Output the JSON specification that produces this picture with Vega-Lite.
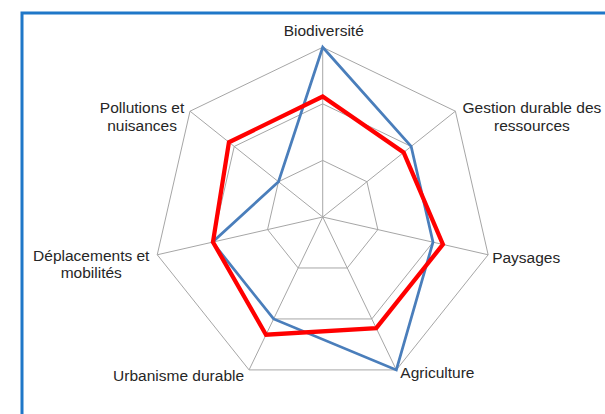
{
  "$schema": "https://vega.github.io/schema/vega-lite/v6.json",
  "width": 600,
  "height": 420,
  "autosize": {"type": "none"},
  "padding": {"left": 22, "top": 13, "right": 0, "bottom": 0},
  "background": "white",
  "config": {
    "view": {"stroke": "#1f77c8", "strokeWidth": 3},
    "text": {"font": "Liberation Sans", "fontSize": 15.5, "color": "#262626", "lineHeight": 17.5}
  },
  "datasets": {
    "axes": [
      {"idx": 0, "label": ["Biodiversité"], "levels": [1, 2, 3]},
      {"idx": 1, "label": ["Gestion durable des", "ressources"], "levels": [1, 2, 3]},
      {"idx": 2, "label": ["Paysages"], "levels": [1, 2, 3]},
      {"idx": 3, "label": ["Agriculture"], "levels": [1, 2, 3]},
      {"idx": 4, "label": ["Urbanisme durable"], "levels": [1, 2, 3]},
      {"idx": 5, "label": ["Déplacements et", "mobilités"], "levels": [1, 2, 3]},
      {"idx": 6, "label": ["Pollutions et", "nuisances"], "levels": [1, 2, 3]}
    ],
    "scores": [
      {"series": "A", "idx": 0, "value": 3},
      {"series": "A", "idx": 1, "value": 2},
      {"series": "A", "idx": 2, "value": 2},
      {"series": "A", "idx": 3, "value": 3},
      {"series": "A", "idx": 4, "value": 2},
      {"series": "A", "idx": 5, "value": 2},
      {"series": "A", "idx": 6, "value": 1},
      {"series": "B", "idx": 0, "value": 2.13},
      {"series": "B", "idx": 1, "value": 1.83},
      {"series": "B", "idx": 2, "value": 2.18},
      {"series": "B", "idx": 3, "value": 2.18},
      {"series": "B", "idx": 4, "value": 2.31},
      {"series": "B", "idx": 5, "value": 1.99},
      {"series": "B", "idx": 6, "value": 2.12}
    ]
  },
  "layer": [
    {
      "data": {"name": "axes"},
      "transform": [
        {"flatten": ["levels"], "as": ["level"]},
        {"calculate": "datum.level * sin(datum.idx * 2 * PI / 7)", "as": "px"},
        {"calculate": "datum.level * cos(datum.idx * 2 * PI / 7)", "as": "py"}
      ],
      "mark": {"type": "line", "interpolate": "linear-closed", "color": "#a6a6a6", "strokeWidth": 1},
      "encoding": {
        "x": {"field": "px", "type": "quantitative", "scale": {"domain": [-5.316, 5.291], "nice": false, "zero": false}, "axis": null},
        "y": {"field": "py", "type": "quantitative", "scale": {"domain": [-3.818, 3.606], "nice": false, "zero": false}, "axis": null},
        "detail": {"field": "level", "type": "nominal"},
        "order": {"field": "idx", "type": "quantitative"}
      }
    },
    {
      "data": {"name": "axes"},
      "transform": [
        {"calculate": "3 * sin(datum.idx * 2 * PI / 7)", "as": "px"},
        {"calculate": "3 * cos(datum.idx * 2 * PI / 7)", "as": "py"},
        {"calculate": "0", "as": "ox"},
        {"calculate": "0", "as": "oy"}
      ],
      "mark": {"type": "rule", "color": "#a6a6a6", "strokeWidth": 1},
      "encoding": {
        "x": {"field": "ox", "type": "quantitative"},
        "y": {"field": "oy", "type": "quantitative"},
        "x2": {"field": "px"},
        "y2": {"field": "py"}
      }
    },
    {
      "data": {"name": "scores"},
      "transform": [
        {"filter": "datum.series === 'A'"},
        {"calculate": "datum.value * sin(datum.idx * 2 * PI / 7)", "as": "px"},
        {"calculate": "datum.value * cos(datum.idx * 2 * PI / 7)", "as": "py"}
      ],
      "mark": {"type": "line", "interpolate": "linear-closed", "color": "#4a7ebb", "strokeWidth": 2.75, "strokeJoin": "miter"},
      "encoding": {
        "x": {"field": "px", "type": "quantitative"},
        "y": {"field": "py", "type": "quantitative"},
        "order": {"field": "idx", "type": "quantitative"}
      }
    },
    {
      "data": {"name": "scores"},
      "transform": [
        {"filter": "datum.series === 'B'"},
        {"calculate": "datum.value * sin(datum.idx * 2 * PI / 7)", "as": "px"},
        {"calculate": "datum.value * cos(datum.idx * 2 * PI / 7)", "as": "py"}
      ],
      "mark": {"type": "line", "interpolate": "linear-closed", "color": "#ff0000", "strokeWidth": 4.25, "strokeJoin": "miter"},
      "encoding": {
        "x": {"field": "px", "type": "quantitative"},
        "y": {"field": "py", "type": "quantitative"},
        "order": {"field": "idx", "type": "quantitative"}
      }
    },
    {
      "data": {"name": "axes"},
      "transform": [
        {"filter": "datum.idx === 0"},
        {"calculate": "3 * sin(datum.idx * 2 * PI / 7)", "as": "px"},
        {"calculate": "3 * cos(datum.idx * 2 * PI / 7)", "as": "py"}
      ],
      "mark": {"type": "text", "align": "center", "baseline": "middle", "dx": 1, "dy": -16.5},
      "encoding": {"x": {"field": "px", "type": "quantitative"}, "y": {"field": "py", "type": "quantitative"}, "text": {"field": "label"}}
    },
    {
      "data": {"name": "axes"},
      "transform": [
        {"filter": "datum.idx === 1"},
        {"calculate": "3 * sin(datum.idx * 2 * PI / 7)", "as": "px"},
        {"calculate": "3 * cos(datum.idx * 2 * PI / 7)", "as": "py"}
      ],
      "mark": {"type": "text", "align": "center", "baseline": "middle", "dx": 76.5, "dy": -3},
      "encoding": {"x": {"field": "px", "type": "quantitative"}, "y": {"field": "py", "type": "quantitative"}, "text": {"field": "label"}}
    },
    {
      "data": {"name": "axes"},
      "transform": [
        {"filter": "datum.idx === 2 || datum.idx === 3"},
        {"calculate": "3 * sin(datum.idx * 2 * PI / 7)", "as": "px"},
        {"calculate": "3 * cos(datum.idx * 2 * PI / 7)", "as": "py"}
      ],
      "mark": {"type": "text", "align": "left", "baseline": "middle", "dx": 4, "dy": 3},
      "encoding": {"x": {"field": "px", "type": "quantitative"}, "y": {"field": "py", "type": "quantitative"}, "text": {"field": "label"}}
    },
    {
      "data": {"name": "axes"},
      "transform": [
        {"filter": "datum.idx === 4"},
        {"calculate": "3 * sin(datum.idx * 2 * PI / 7)", "as": "px"},
        {"calculate": "3 * cos(datum.idx * 2 * PI / 7)", "as": "py"}
      ],
      "mark": {"type": "text", "align": "right", "baseline": "middle", "dx": -5, "dy": 6},
      "encoding": {"x": {"field": "px", "type": "quantitative"}, "y": {"field": "py", "type": "quantitative"}, "text": {"field": "label"}}
    },
    {
      "data": {"name": "axes"},
      "transform": [
        {"filter": "datum.idx === 5"},
        {"calculate": "3 * sin(datum.idx * 2 * PI / 7)", "as": "px"},
        {"calculate": "3 * cos(datum.idx * 2 * PI / 7)", "as": "py"}
      ],
      "mark": {"type": "text", "align": "center", "baseline": "middle", "dx": -66, "dy": 1},
      "encoding": {"x": {"field": "px", "type": "quantitative"}, "y": {"field": "py", "type": "quantitative"}, "text": {"field": "label"}}
    },
    {
      "data": {"name": "axes"},
      "transform": [
        {"filter": "datum.idx === 6"},
        {"calculate": "3 * sin(datum.idx * 2 * PI / 7)", "as": "px"},
        {"calculate": "3 * cos(datum.idx * 2 * PI / 7)", "as": "py"}
      ],
      "mark": {"type": "text", "align": "center", "baseline": "middle", "dx": -48, "dy": -3},
      "encoding": {"x": {"field": "px", "type": "quantitative"}, "y": {"field": "py", "type": "quantitative"}, "text": {"field": "label"}}
    }
  ]
}
